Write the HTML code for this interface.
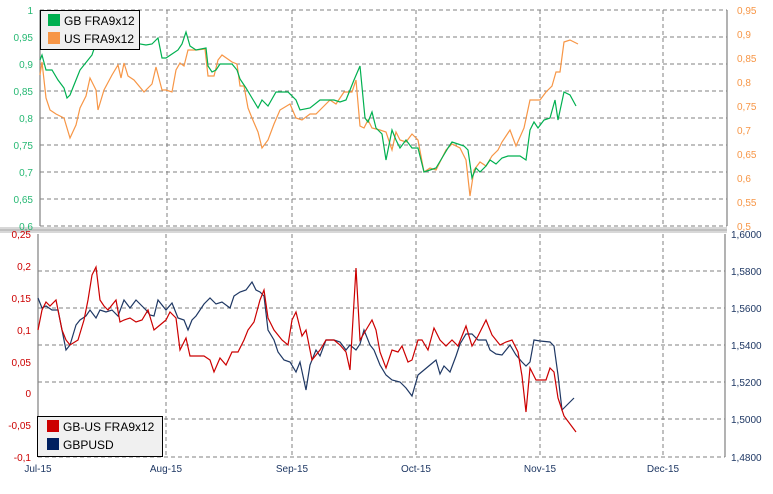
<!DOCTYPE html>
<html><head><meta charset="utf-8"><style>
body{margin:0;background:#fff;}
svg text{font-family:"Liberation Sans",sans-serif;font-size:10px;}
</style></head><body>
<svg width="773" height="489" viewBox="0 0 773 489" xmlns="http://www.w3.org/2000/svg">
<rect width="773" height="489" fill="#fff"/>
<!-- top grid -->
<g stroke="#808080" stroke-dasharray="4,3" stroke-width="1" fill="none">
<path d="M40 10H727M40 37H727M40 64H727M40 91H727M40 118H727M40 145H727M40 172H727M40 199H727M40 226H727"/>
<path d="M167 10V226M292 10V226M416 10V226M540 10V226M663 10V226"/>
<path d="M38 271H725M38 308H725M38 345H725M38 382H725M38 419H725M38 457H725"/>
<path d="M166 234V457M292 234V457M416 234V457M540 234V457M663 234V457"/>
</g>
<rect x="0" y="227" width="727" height="6" fill="#d8d8d8"/>
<rect x="0" y="229" width="727" height="2" fill="#c0c0c0"/>
<g stroke="#808080" stroke-width="1.2">
<line x1="40" y1="10" x2="40" y2="226"/><line x1="727" y1="10" x2="727" y2="226"/>
<line x1="38" y1="234" x2="38" y2="457"/><line x1="725" y1="234" x2="725" y2="457"/>
</g>
<g fill="#26b873" text-anchor="end">
<text x="33" y="14">1</text><text x="33" y="41">0,95</text><text x="33" y="68">0,9</text><text x="33" y="95">0,85</text><text x="33" y="122">0,8</text><text x="33" y="149">0,75</text><text x="33" y="176">0,7</text><text x="33" y="203">0,65</text><text x="33" y="230">0,6</text>
</g>
<g fill="#f79646">
<text x="737" y="14">0,95</text><text x="737" y="38">0,9</text><text x="737" y="62">0,85</text><text x="737" y="86">0,8</text><text x="737" y="110">0,75</text><text x="737" y="134">0,7</text><text x="737" y="158">0,65</text><text x="737" y="182">0,6</text><text x="737" y="206">0,55</text><text x="737" y="230">0,5</text>
</g>
<g fill="#cc0000" text-anchor="end">
<text x="31" y="238">0,25</text><text x="31" y="270">0,2</text><text x="31" y="302">0,15</text><text x="31" y="334">0,1</text><text x="31" y="366">0,05</text><text x="31" y="397">0</text><text x="31" y="429">-0,05</text><text x="31" y="461">-0,1</text>
</g>
<g fill="#1f3864">
<text x="731" y="238">1,6000</text><text x="731" y="275">1,5800</text><text x="731" y="312">1,5600</text><text x="731" y="349">1,5400</text><text x="731" y="386">1,5200</text><text x="731" y="423">1,5000</text><text x="731" y="461">1,4800</text>
</g>
<g fill="#1f3864" text-anchor="middle">
<text x="38" y="472">Jul-15</text><text x="166" y="472">Aug-15</text><text x="292" y="472">Sep-15</text><text x="416" y="472">Oct-15</text><text x="540" y="472">Nov-15</text><text x="663" y="472">Dec-15</text>
</g>
<polyline fill="none" stroke="#f79646" stroke-width="1.2" points="40,75 42,62 46,98 50,110 56,114 64,118 70,138 76,125 80,108 86,96 90,78 96,90 98,110 104,90 112,75 118,65 121,78 124,63 128,76 134,80 144,92 152,84 156,67 162,90 166,90 172,92 176,70 180,63 184,66 188,50 196,50 205,49 208,76 214,76 218,60 222,55 232,62 237,64 240,86 244,86 248,108 252,118 258,132 262,148 268,140 274,124 280,110 290,104 296,118 302,120 310,114 316,114 322,108 330,100 336,104 344,92 352,92 356,80 360,126 364,128 368,120 372,128 380,130 386,132 392,150 396,132 400,140 406,142 412,134 418,140 424,172 430,168 436,170 440,162 446,150 452,144 460,148 466,160 470,196 474,170 480,162 486,166 492,156 498,150 502,142 510,130 516,146 524,128 530,100 540,100 546,92 552,86 556,72 560,72 564,42 570,40 578,44"/>
<polyline fill="none" stroke="#00b050" stroke-width="1.2" points="40,60 42,55 46,70 52,70 58,80 64,88 67,98 70,95 74,85 80,70 92,55 97,40 104,28 110,32 116,32 122,40 128,42 133,36 140,44 146,45 152,44 158,38 162,58 166,58 172,54 178,50 182,44 186,32 190,46 196,50 206,48 208,66 212,72 216,70 220,64 232,64 237,70 240,79 246,88 252,98 258,108 262,100 268,106 276,92 288,92 296,100 300,110 310,108 320,100 334,100 340,102 346,100 354,80 360,66 365,118 368,122 372,112 376,128 382,134 386,160 392,130 396,140 400,148 406,140 412,148 418,148 424,172 430,170 436,168 442,158 448,148 452,142 458,144 464,146 468,150 472,178 476,168 480,172 486,166 490,160 496,164 502,158 508,156 514,156 520,156 526,160 530,130 534,122 538,128 544,120 550,118 555,100 558,120 564,92 570,95 576,106"/>
<polyline fill="none" stroke="#1f3864" stroke-width="1.2" points="38,298 42,308 46,306 52,310 58,310 62,330 66,350 70,345 76,325 80,320 86,316 90,310 96,318 100,310 106,312 112,310 118,316 124,300 130,308 136,300 142,306 146,310 150,315 154,316 158,300 166,310 172,303 178,318 184,320 188,330 192,320 196,316 204,304 210,298 216,304 222,302 230,308 234,296 240,292 246,290 252,282 256,290 260,292 264,296 268,330 274,340 278,352 284,360 290,362 296,372 300,362 306,390 310,365 316,350 320,356 326,340 334,340 340,342 346,350 350,345 356,350 360,344 364,330 370,345 374,350 380,365 386,375 392,380 400,382 406,388 412,396 418,375 424,370 430,365 436,360 440,374 444,366 450,372 456,356 460,344 466,334 472,334 478,340 486,340 490,350 496,354 502,355 510,345 516,355 522,362 526,366 530,362 534,340 540,341 550,342 554,346 558,375 562,410 574,398"/>
<polyline fill="none" stroke="#cc0000" stroke-width="1.2" points="38,330 42,310 46,302 50,306 56,300 62,330 66,340 70,345 78,340 84,320 88,300 92,275 96,267 100,300 104,306 108,310 112,305 116,300 120,322 124,320 130,318 136,322 142,320 148,310 154,330 160,325 166,320 170,312 176,318 180,350 186,338 190,356 196,356 204,356 210,360 214,372 220,358 226,365 232,352 238,352 244,340 248,330 254,322 260,300 264,290 268,318 274,330 282,340 288,345 292,320 296,312 302,336 306,330 312,360 320,350 326,340 334,340 340,345 346,352 350,370 356,268 360,340 366,330 372,320 376,330 380,352 386,368 392,350 398,352 402,346 408,362 412,360 418,340 422,340 428,350 434,328 440,340 446,346 452,340 458,346 466,326 472,346 478,336 486,320 492,335 500,345 506,342 512,340 518,352 522,376 526,412 530,368 536,380 546,380 550,368 554,372 558,398 564,416 576,432"/>
<!-- legends -->
<rect x="40.5" y="10.5" width="99" height="39" fill="#f0f0f0" stroke="#000"/>
<rect x="48" y="14" width="12" height="12" fill="#00b050"/><text x="64" y="25" fill="#000" style="font-size:12px">GB FRA9x12</text>
<rect x="48" y="32" width="12" height="12" fill="#f79646"/><text x="64" y="43" fill="#000" style="font-size:12px">US FRA9x12</text>
<rect x="37.5" y="416.5" width="125" height="40" fill="#f0f0f0" stroke="#000"/>
<rect x="47" y="420" width="12" height="12" fill="#cc0000"/><text x="63" y="431" fill="#000" style="font-size:12px">GB-US FRA9x12</text>
<rect x="47" y="438" width="12" height="12" fill="#002060"/><text x="63" y="449" fill="#000" style="font-size:12px">GBPUSD</text>
</svg>
</body></html>
